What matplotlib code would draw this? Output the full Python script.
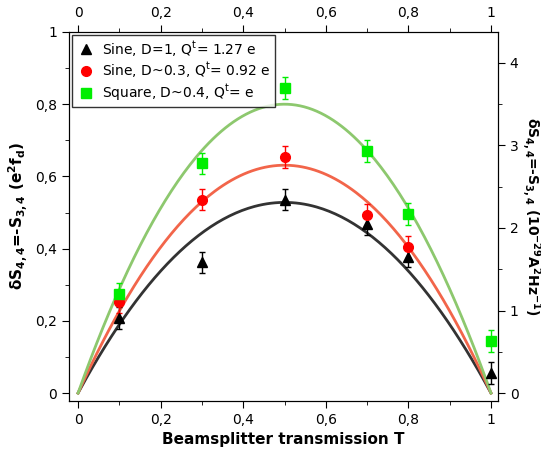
import numpy as np
import matplotlib
matplotlib.use('Agg')
import matplotlib.pyplot as plt
from matplotlib.lines import Line2D
from matplotlib.ticker import FuncFormatter, MultipleLocator

# measured points (transmission T, noise in e^2 f_d)
t_sine1 = [0.1, 0.3, 0.5, 0.7, 0.8, 1.0]
y_sine1 = [0.208, 0.362, 0.536, 0.467, 0.378, 0.056]
t_sine03 = [0.1, 0.3, 0.5, 0.7, 0.8]
y_sine03 = [0.253, 0.536, 0.653, 0.493, 0.404]
t_square = [0.1, 0.3, 0.5, 0.7, 0.8, 1.0]
y_square = [0.275, 0.636, 0.844, 0.670, 0.496, 0.144]
err = 0.03

# peak value of each theory curve at T=0.5
peak_sine1 = 0.528
peak_sine03 = 0.631
peak_square = 0.80

labels = ['Sine, D=1, Q$^{\\mathrm{t}}$= 1.27 e',
          'Sine, D~0.3, Q$^{\\mathrm{t}}$= 0.92 e',
          'Square, D~0.4, Q$^{\\mathrm{t}}$= e']


def comma(v, pos):
    return ('%g' % round(v, 3)).replace('.', ',')


fig = plt.figure(figsize=(5.41, 4.55), dpi=100)
ax = fig.add_axes([0.1275, 0.1187, 0.793, 0.811])

T = np.linspace(0, 1, 200)
ax.plot(T, 4 * peak_sine1 * T * (1 - T), color='#333333', lw=2.0)
ax.plot(T, 4 * peak_sine03 * T * (1 - T), color='#f2654a', lw=2.0)
ax.plot(T, 4 * peak_square * T * (1 - T), color='#8dc86e', lw=2.0)

ax.errorbar(t_sine1, y_sine1, yerr=err, fmt='^', color='black', ms=7,
            capsize=2, elinewidth=1)
ax.errorbar(t_sine03, y_sine03, yerr=err, fmt='o', color='#ff0000', ms=7,
            capsize=2, elinewidth=1)
ax.errorbar(t_square, y_square, yerr=err, fmt='s', color='#00ee00', ms=6.5,
            capsize=2, elinewidth=1)

ax.set_xlim(-0.022, 1.017)
ax.set_ylim(-0.022, 1.0)
ax.xaxis.set_major_locator(MultipleLocator(0.2))
ax.xaxis.set_minor_locator(MultipleLocator(0.1))
ax.yaxis.set_major_locator(MultipleLocator(0.2))
ax.yaxis.set_minor_locator(MultipleLocator(0.1))
ax.xaxis.set_major_formatter(FuncFormatter(comma))
ax.yaxis.set_major_formatter(FuncFormatter(comma))
ax.tick_params(which='both', direction='out', top=True, labeltop=True,
               labelsize=10)
ax.tick_params(which='major', length=5)
ax.tick_params(which='minor', length=3)
ax.tick_params(axis='y', right=False)

ax.set_xlabel('Beamsplitter transmission T', fontsize=11, fontweight='bold')
ax.set_ylabel('δS$_{\\mathbf{4,4}}$=-S$_{\\mathbf{3,4}}$ (e$^{\\mathbf{2}}$f$_{\\mathbf{d}}$)',
              fontsize=11, fontweight='bold')

# right axis in absolute units
ax2 = ax.twinx()
ax2.set_ylim(-0.022 * 4.375, 1.0 * 4.375)
ax2.yaxis.set_major_locator(MultipleLocator(1))
ax2.yaxis.set_minor_locator(MultipleLocator(0.5))
ax2.tick_params(which='both', direction='out', labelsize=10)
ax2.tick_params(which='major', length=5)
ax2.tick_params(which='minor', length=3)
ax2.set_ylabel('δS$_{\\mathbf{4,4}}$=-S$_{\\mathbf{3,4}}$ (10$^{\\mathbf{-29}}$A$^{\\mathbf{2}}$Hz$^{\\mathbf{-1}}$)',
               fontsize=10, fontweight='bold', rotation=270, labelpad=17)

handles = [Line2D([], [], ls='none', marker='^', color='black', ms=7),
           Line2D([], [], ls='none', marker='o', color='#ff0000', ms=7),
           Line2D([], [], ls='none', marker='s', color='#00ee00', ms=6.5)]
leg = ax.legend(handles, labels, loc='upper left', fontsize=10, frameon=True,
                fancybox=False, borderaxespad=0.2, handletextpad=0.4,
                borderpad=0.3, labelspacing=0.15, handlelength=1.5)
leg.get_frame().set_edgecolor('black')
leg.get_frame().set_linewidth(1.0)

fig.savefig('out.png', dpi=100)
